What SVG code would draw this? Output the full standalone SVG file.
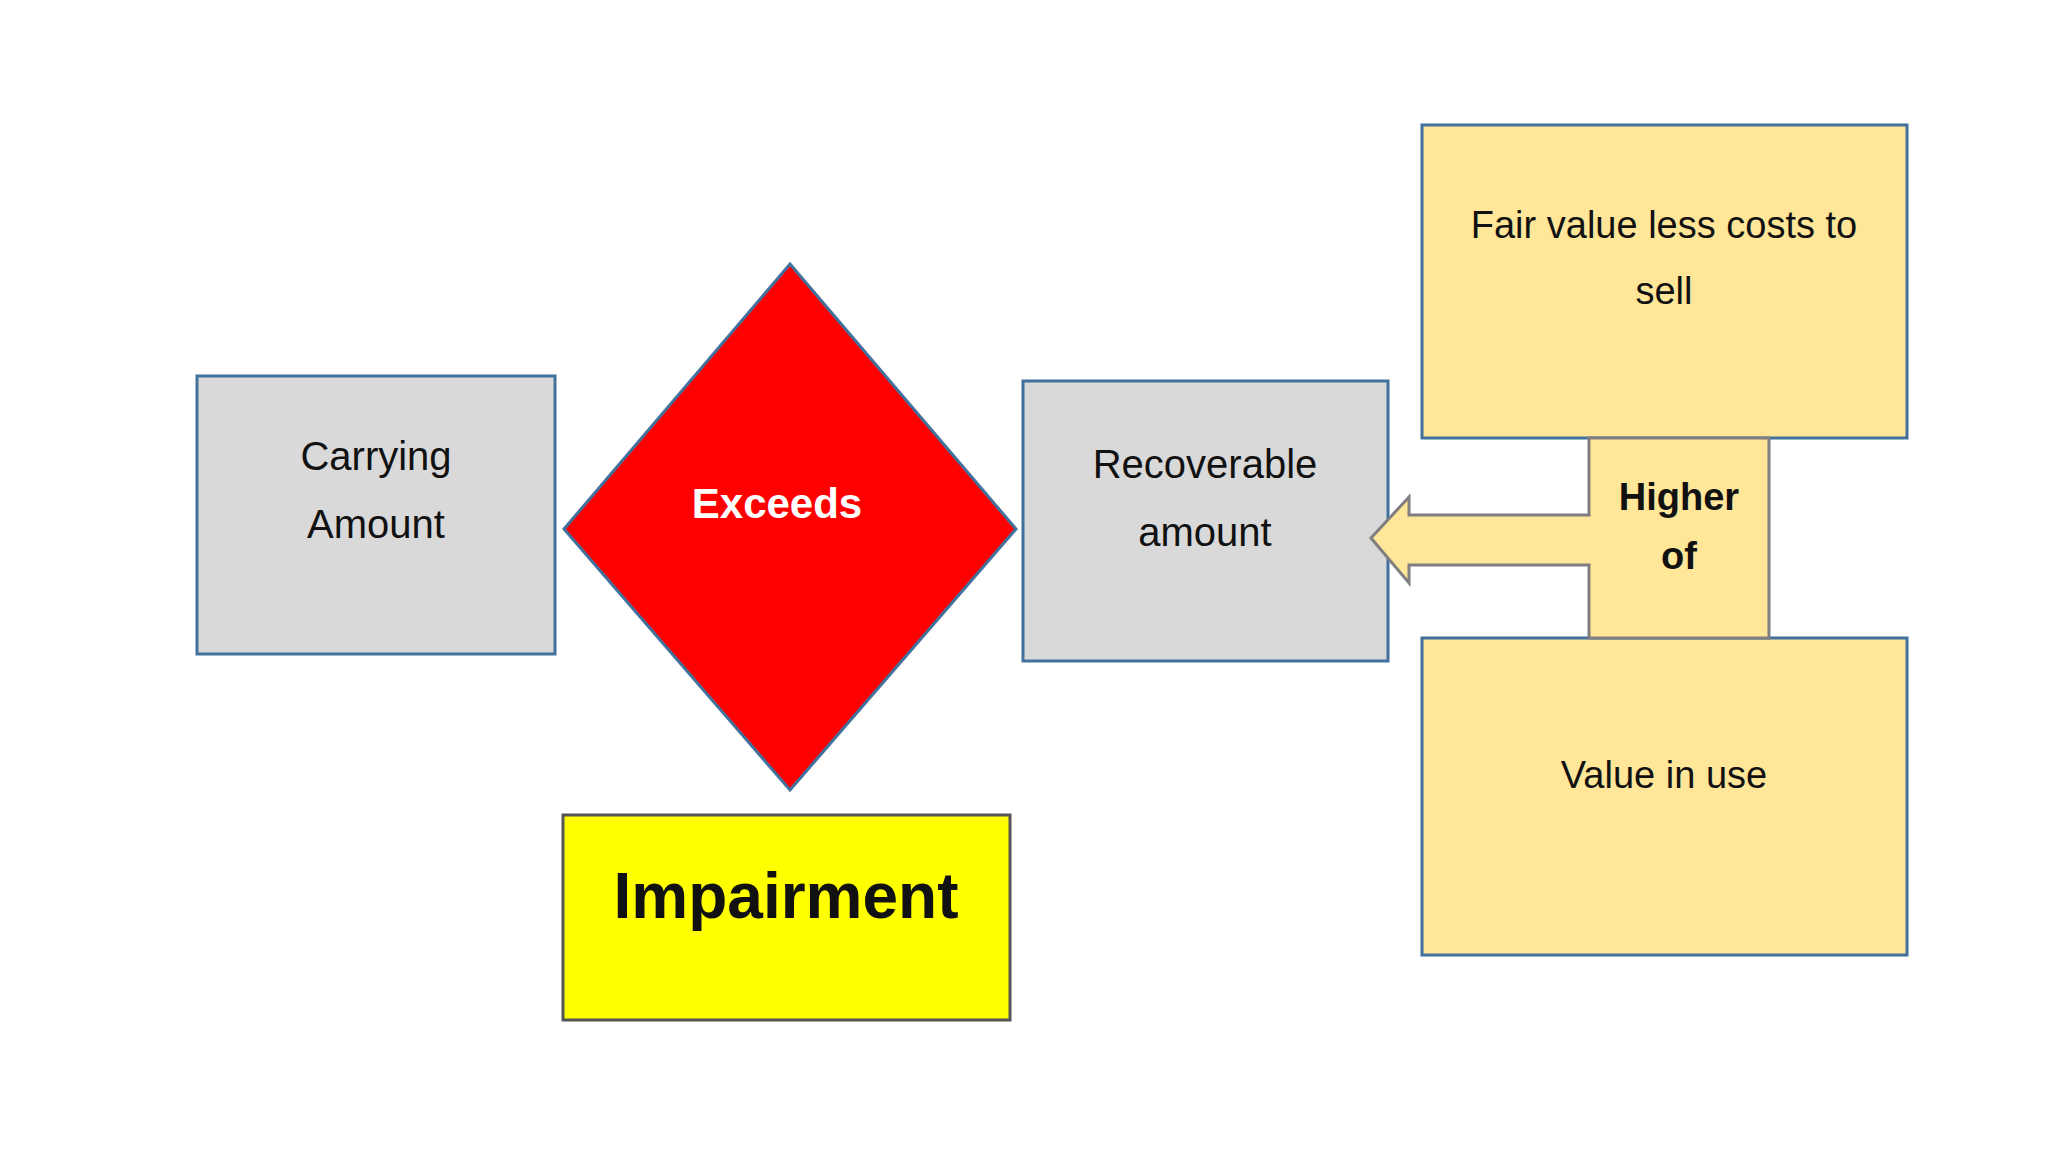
<svg xmlns="http://www.w3.org/2000/svg" width="2048" height="1152" viewBox="0 0 2048 1152">
<style>
.t{font-family:"Liberation Sans",Arial,sans-serif;text-anchor:middle;fill:#111}
.g{fill:#D9D9D9;stroke:#41719C;stroke-width:3}
.y{fill:#FFE699;stroke:#41719C;stroke-width:3}
</style>
<rect width="2048" height="1152" fill="#fff"/>
<g id="carrying"><rect class="g" x="197" y="376" width="358" height="278"/>
<text class="t" x="376" y="470" font-size="40">Carrying</text><text class="t" x="376" y="538" font-size="40">Amount</text></g>
<g id="exceeds"><polygon points="790,264 1016,529 790,790 564,529" fill="#FF0000" stroke="#41719C" stroke-width="3"/>
<text class="t" x="777" y="518" font-size="42" font-weight="bold" style="fill:#fff">Exceeds</text></g>
<g id="impairment"><rect x="563" y="815" width="447" height="205" fill="#FFFF00" stroke="#555" stroke-width="3"/>
<text class="t" x="786" y="918" font-size="64" font-weight="bold">Impairment</text></g>
<g id="recoverable"><rect class="g" x="1023" y="381" width="365" height="280"/>
<text class="t" x="1205" y="478" font-size="40">Recoverable</text><text class="t" x="1205" y="546" font-size="40">amount</text></g>
<g id="fairvalue"><rect class="y" x="1422" y="125" width="485" height="313"/>
<text class="t" x="1664" y="238" font-size="38">Fair value less costs to</text><text class="t" x="1664" y="304" font-size="38">sell</text></g>
<g id="valueinuse"><rect class="y" x="1422" y="638" width="485" height="317"/>
<text class="t" x="1664" y="788" font-size="38">Value in use</text></g>
<g id="connectors"><polygon id="higherof" points="1589,438 1769,438 1769,638 1589,638 1589,565 1409,565 1409,583 1371,538 1409,497 1409,515 1589,515" fill="#FFE699" stroke="#7F7F7F" stroke-width="3"/>
<text class="t" x="1679" y="510" font-size="38" font-weight="bold">Higher</text><text class="t" x="1679" y="569" font-size="38" font-weight="bold">of</text></g>
</svg>
